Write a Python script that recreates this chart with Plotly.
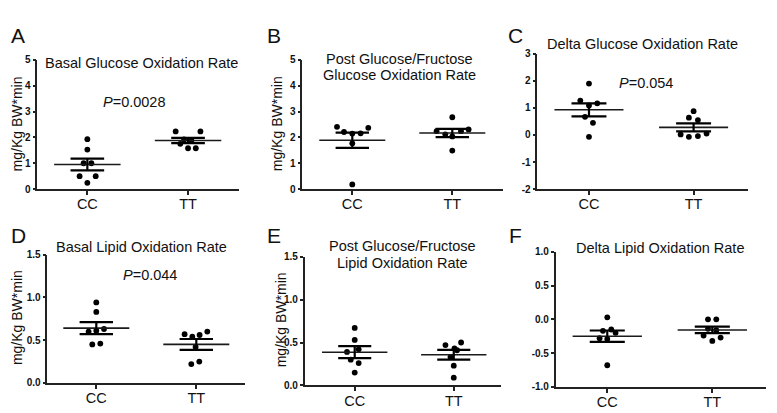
import plotly.graph_objects as go

# ---------------- data ----------------
categories = ["CC", "TT"]

a_cc = [1.93, 1.53, 1.00, 1.00, 0.50, 0.50, 0.24]
a_tt = [2.23, 2.23, 1.92, 1.88, 1.75, 1.58, 1.58]
a_mean = [0.95, 1.88]
a_sem = [0.225, 0.10]

b_cc = [2.41, 2.21, 2.15, 2.16, 2.37, 1.77, 0.18]
b_tt = [2.78, 2.24, 2.12, 2.04, 2.24, 2.31, 1.49]
b_mean = [1.89, 2.17]
b_sem = [0.295, 0.16]

c_cc = [1.90, 1.27, 1.17, 1.09, 0.67, 0.45, -0.07]
c_tt = [0.88, 0.64, 0.55, 0.02, -0.07, -0.04, 0.05]
c_mean = [0.93, 0.28]
c_sem = [0.24, 0.145]

d_cc = [0.94, 0.83, 0.60, 0.61, 0.63, 0.45, 0.46]
d_tt = [0.57, 0.54, 0.56, 0.60, 0.42, 0.22, 0.25]
d_mean = [0.64, 0.45]
d_sem = [0.07, 0.063]

e_cc = [0.67, 0.53, 0.42, 0.39, 0.30, 0.26, 0.15]
e_tt = [0.47, 0.50, 0.43, 0.41, 0.33, 0.23, 0.09]
e_mean = [0.387, 0.357]
e_sem = [0.07, 0.056]

f_cc = [0.03, -0.17, -0.15, -0.20, -0.28, -0.29, -0.68]
f_tt = [0.00, 0.00, -0.14, -0.16, -0.24, -0.27, -0.32]
f_mean = [-0.25, -0.157]
f_sem = [0.085, 0.048]

# horizontal scatter (dodge) of the dots, in category units
a_cc_dx = [0, 0, -0.037, 0.04, -0.077, 0.083, 0]
a_tt_dx = [-0.123, 0.123, -0.04, 0.033, -0.077, 0, 0.077]
b_cc_dx = [-0.153, -0.083, 0, 0.083, 0.16, 0, 0]
b_tt_dx = [0, -0.157, -0.07, 0, 0.087, 0.163, 0]
c_cc_dx = [0, -0.083, 0.079, 0, -0.038, 0.038, 0]
c_tt_dx = [0, -0.045, 0.041, -0.124, -0.045, 0.041, 0.124]
d_cc_dx = [0, 0, -0.077, 0, 0.077, -0.04, 0.04]
d_tt_dx = [-0.117, -0.04, 0.033, 0.11, -0.007, -0.05, 0.03]
e_cc_dx = [0, 0, 0.04, -0.078, -0.04, 0.04, 0]
e_tt_dx = [-0.084, 0.074, 0.007, 0.033, -0.033, 0, 0]
f_cc_dx = [0, -0.041, 0.038, 0.079, -0.073, 0, 0]
f_tt_dx = [-0.041, 0.038, -0.041, 0.038, -0.083, 0.079, 0]

ticks_0_5 = [0, 1, 2, 3, 4, 5]
labels_0_5 = ["0", "1", "2", "3", "4", "5"]
ticks_m2_3 = [-2, -1, 0, 1, 2, 3]
labels_m2_3 = ["-2", "-1", "0", "1", "2", "3"]
ticks_0_15 = [0, 0.5, 1.0, 1.5]
labels_0_15 = ["0.0", "0.5", "1.0", "1.5"]
ticks_m1_1 = [-1, -0.5, 0, 0.5, 1]
labels_m1_1 = ["-1.0", "-0.5", "0.0", "0.5", "1.0"]

panel_letters = ["A", "B", "C", "D", "E", "F"]
panel_titles = [
    ["Basal Glucose Oxidation Rate"],
    ["Post Glucose/Fructose", "Glucose Oxidation Rate"],
    ["Delta Glucose Oxidation Rate"],
    ["Basal Lipid Oxidation Rate"],
    ["Post Glucose/Fructose", "Lipid Oxidation Rate"],
    ["Delta Lipid Oxidation Rate"],
]
p_values = ["0.0028", None, "0.054", "0.044", None, None]
y_title = "mg/Kg BW*min"

# ---------------- layout geometry (pixels) ----------------
W, H = 777, 413
FONT = "Liberation Sans, Arial, Helvetica, sans-serif"
INK = "#111111"


def fx(p):
    return p / W


def fy(p):
    return 1 - p / H


panels = [
    dict(cc=a_cc, tt=a_tt, ccdx=a_cc_dx, ttdx=a_tt_dx, mean=a_mean, sem=a_sem,
         tv=ticks_0_5, tt_lab=labels_0_5, yr=[0, 5],
         x0=29.3, x1=231, yt=47.3, yb=180.3, xr=[-0.497, 1.506],
         letter=(10, 22), title_xy=(133, [50]), p_xy=(127, 90.7), ytitle=(8.7, 113)),
    dict(cc=b_cc, tt=b_tt, ccdx=b_cc_dx, ttdx=b_tt_dx, mean=b_mean, sem=b_sem,
         tv=ticks_0_5, tt_lab=labels_0_5, yr=[0, 5],
         x0=294.3, x1=495, yt=47.3, yb=180.3, xr=[-0.5, 1.507],
         letter=(266, 22), title_xy=(391.7, [46.7, 63.3]), p_xy=None, ytitle=(268.5, 113)),
    dict(cc=c_cc, tt=c_tt, ccdx=c_cc_dx, ttdx=c_tt_dx, mean=c_mean, sem=c_sem,
         tv=ticks_m2_3, tt_lab=labels_m2_3, yr=[-2, 3],
         x0=529.3, x1=740, yt=41, yb=180.3, xr=[-0.494, 1.52],
         letter=(508, 22), title_xy=(634.3, [30.7]), p_xy=(637.8, 71), ytitle=None),
    dict(cc=d_cc, tt=d_tt, ccdx=d_cc_dx, ttdx=d_tt_dx, mean=d_mean, sem=d_sem,
         tv=ticks_0_15, tt_lab=labels_0_15, yr=[0, 1.5],
         x0=39.3, x1=237.3, yt=247.7, yb=380, xr=[-0.49, 1.49],
         letter=(10, 228), title_xy=(133.3, [240]), p_xy=(141.7, 269), ytitle=(9.2, 313)),
    dict(cc=e_cc, tt=e_tt, ccdx=e_cc_dx, ttdx=e_tt_dx, mean=e_mean, sem=e_sem,
         tv=ticks_0_15, tt_lab=labels_0_15, yr=[0, 1.5],
         x0=296.7, x1=493.3, yt=250, yb=382.5, xr=[-0.505, 1.48],
         letter=(266, 228), title_xy=(394.7, [239.3, 256]), p_xy=None, ytitle=(272.5, 315)),
    dict(cc=f_cc, tt=f_tt, ccdx=f_cc_dx, ttdx=f_tt_dx, mean=f_mean, sem=f_sem,
         tv=ticks_m1_1, tt_lab=labels_m1_1, yr=[-1, 1],
         x0=547.7, x1=758.3, yt=245, yb=384, xr=[-0.491, 1.514],
         letter=(507, 228), title_xy=(652, [240.7]), p_xy=None, ytitle=None),
]

MEAN_HALF = 0.33
SEM_HALF = 0.167

fig = go.Figure()
annotations = []
layout_axes = {}

for i, p in enumerate(panels, start=1):
    xa = "x" if i == 1 else f"x{i}"
    ya = "y" if i == 1 else f"y{i}"

    # dots
    for g, (vals, dxs) in enumerate([(p["cc"], p["ccdx"]), (p["tt"], p["ttdx"])]):
        fig.add_trace(go.Scatter(
            x=[g + d for d in dxs], y=vals, mode="markers",
            marker=dict(color="black", size=5.8, line=dict(width=0)),
            xaxis=xa, yaxis=ya, showlegend=False, hoverinfo="skip"))

    # mean lines
    mx, my = [], []
    for g, m in enumerate(p["mean"]):
        mx += [g - MEAN_HALF, g + MEAN_HALF, None]
        my += [m, m, None]
    fig.add_trace(go.Scatter(x=mx, y=my, mode="lines",
                             line=dict(color="#1a1a1a", width=1.6),
                             xaxis=xa, yaxis=ya, showlegend=False, hoverinfo="skip"))

    # SEM bars
    sx, sy = [], []
    for g, (m, s) in enumerate(zip(p["mean"], p["sem"])):
        sx += [g - SEM_HALF, g + SEM_HALF, None, g - SEM_HALF, g + SEM_HALF, None, g, g, None]
        sy += [m + s, m + s, None, m - s, m - s, None, m - s, m + s, None]
    fig.add_trace(go.Scatter(x=sx, y=sy, mode="lines",
                             line=dict(color="black", width=2.2),
                             xaxis=xa, yaxis=ya, showlegend=False, hoverinfo="skip"))

    key_x = "xaxis" if i == 1 else f"xaxis{i}"
    key_y = "yaxis" if i == 1 else f"yaxis{i}"
    layout_axes[key_x] = dict(
        domain=[fx(p["x0"]), fx(p["x1"])], range=p["xr"], anchor=ya,
        tickmode="array", tickvals=[0, 1], ticktext=categories,
        showline=True, linecolor="#222222", linewidth=1.5,
        ticks="outside", ticklen=4, tickwidth=1.5, tickcolor="#222222",
        ticklabelstandoff=-3,
        showgrid=False, zeroline=False, fixedrange=True,
        tickfont=dict(family=FONT, size=14.5, color=INK))
    layout_axes[key_y] = dict(
        domain=[fy(p["yb"]), fy(p["yt"])], range=p["yr"], anchor=xa,
        tickmode="array", tickvals=p["tv"], ticktext=p["tt_lab"],
        showline=True, linecolor="#222222", linewidth=1.5,
        ticks="outside", ticklen=3, tickwidth=1.5, tickcolor="#222222",
        showgrid=False, zeroline=False, fixedrange=True,
        tickfont=dict(family=FONT, size=10, color=INK, weight="bold"))

    # panel letter
    lx, ly = p["letter"]
    annotations.append(dict(text=panel_letters[i - 1], x=fx(lx), y=fy(ly),
                            xref="paper", yref="paper", xanchor="center", yanchor="middle",
                            showarrow=False, font=dict(family=FONT, size=21, color=INK)))
    # title lines
    tx, tys = p["title_xy"]
    for line, ty in zip(panel_titles[i - 1], tys):
        annotations.append(dict(text=line, x=fx(tx), y=fy(ty),
                                xref="paper", yref="paper", xanchor="center", yanchor="middle",
                                showarrow=False, font=dict(family=FONT, size=14.5, color=INK)))
    # p-value
    if p_values[i - 1] is not None:
        px_, py_ = p["p_xy"]
        annotations.append(dict(text="<i>P</i>=" + p_values[i - 1], x=fx(px_), y=fy(py_),
                                xref="paper", yref="paper", xanchor="center", yanchor="middle",
                                showarrow=False, font=dict(family=FONT, size=14.5, color=INK)))
    # y-axis title
    if p["ytitle"] is not None:
        yx, yy = p["ytitle"]
        annotations.append(dict(text=y_title, x=fx(yx), y=fy(yy), textangle=-90,
                                xref="paper", yref="paper", xanchor="center", yanchor="middle",
                                showarrow=False, font=dict(family=FONT, size=14, color=INK)))

fig.update_layout(
    width=W, height=H,
    margin=dict(l=0, r=0, t=0, b=0, pad=0),
    paper_bgcolor="white", plot_bgcolor="white",
    showlegend=False,
    annotations=annotations,
    shapes=[dict(type="line", xref="paper", yref="paper",
                 x0=fx(771.7), x1=fx(771.7), y0=0, y1=1,
                 line=dict(color="#dddddd", width=1))],
    **layout_axes,
)

fig.write_html("out.html", config={"displayModeBar": False})
